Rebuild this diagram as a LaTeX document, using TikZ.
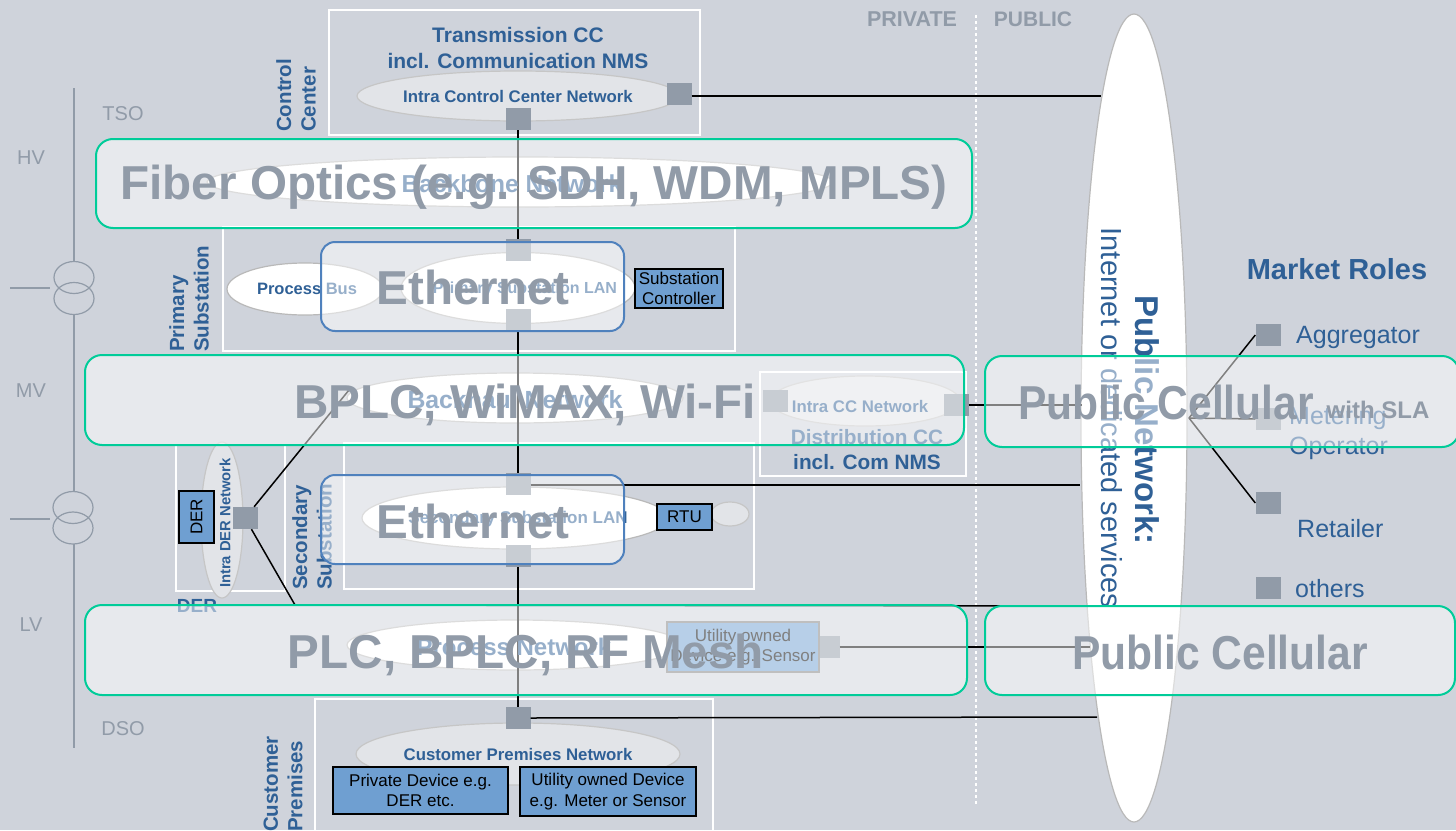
\documentclass[tikz,border=0pt]{standalone}
\usepackage{fontspec}
\usepackage{xcolor}
\setmainfont{Liberation Sans}
\definecolor{bgcol}{HTML}{CFD3DB}
\definecolor{bluetext}{HTML}{2F6096}
\definecolor{grayshape}{HTML}{919BA8}
\definecolor{greenline}{HTML}{00CC99}
\definecolor{blueline}{HTML}{4F81BD}
\definecolor{devicecol}{HTML}{6F9FD1}
\definecolor{hatchcol}{HTML}{E2E4E8}
\newcommand{\fsz}[1]{\fontsize{#1}{\dimexpr#1pt*6/5\relax}\selectfont}
\usetikzlibrary{shapes.geometric}
\tikzset{
    sitebox/.style={draw=white, line width=1.5pt},
    lanwhite/.style={ellipse, draw=gray!55, fill=white, line width=1.2pt, inner sep=0pt},
    lanhatch/.style={ellipse, draw=gray!45, fill=hatchcol, line width=1.2pt, inner sep=0pt},
    portsq/.style={fill=grayshape, minimum width=25pt, minimum height=22pt, inner sep=0pt},
    devbox/.style={draw=black, fill=devicecol, line width=1.2pt, inner sep=0pt, align=center, font=\fsz{17}, text=black},
    bluelabel/.style={text=bluetext, font=\fsz{21}\bfseries, align=center, inner sep=0pt},
    sidelabel/.style={text=bluetext, font=\fsz{20.5}\bfseries, align=left, rotate=90, anchor=west, inner sep=0pt},
    rolelabel/.style={text=bluetext, font=\fsz{25}, anchor=west, align=left, inner sep=0pt},
    graylabel/.style={text=grayshape, font=\fsz{20}, inner sep=0pt},
    link/.style={draw=black, line width=1.5pt},
    techbox/.style={draw=greenline, fill=white, fill opacity=0.5, line width=2pt, rounded corners=17pt, inner sep=0pt},
    lanbox/.style={draw=blueline, fill=white, fill opacity=0.5, line width=2pt, rounded corners=14pt, inner sep=0pt},
    techlabel/.style={text=grayshape, font=\fsz{47.6}\bfseries, inner sep=0pt},
}

\begin{document}
\begin{tikzpicture}[x=1pt, y=-1pt]
    \useasboundingbox[fill=bgcol] (0,0) rectangle (1456,830);

    \draw[grayshape, line width=1.2pt] (74,88) -- (74,262);
    \draw[grayshape, line width=1.2pt] (74,314) -- (74,492);
    \draw[grayshape, line width=1.2pt] (74,544) -- (74,748);
    \draw[grayshape, line width=1.2pt] (74,277.5) ellipse (20 and 16);
    \draw[grayshape, line width=1.2pt] (74,298.5) ellipse (20 and 16);
    \draw[grayshape, line width=1.2pt] (73,507.5) ellipse (20 and 16);
    \draw[grayshape, line width=1.2pt] (73,528) ellipse (20 and 16);
    \draw[grayshape, line width=1.2pt] (10,288) -- (50,288);
    \draw[grayshape, line width=1.2pt] (10,519) -- (50,519);

    \node (hv) [graylabel] at (31,158) {HV};
    \node (mv) [graylabel] at (31,391) {MV};
    \node (lv) [graylabel] at (31,625) {LV};
    \node (tso) [graylabel] at (123,114) {TSO};
    \node (dso) [graylabel] at (123,729) {DSO};
    \node (private) [graylabel, font=\fsz{21.5}\bfseries] at (912,19) {PRIVATE};
    \node (public) [graylabel, font=\fsz{21}\bfseries] at (1033,19) {PUBLIC};

    \draw[white, line width=1.5pt, dashed] (976,15) -- (976,805);

    \draw[sitebox] (329,10) rectangle (700,135);
    \draw[sitebox] (223,227) rectangle (735,351);
    \draw[sitebox] (344,443) rectangle (754,589);
    \draw[sitebox] (176,445) rectangle (285,591);
    \draw[sitebox] (315,699) rectangle (713,835);
    \draw[sitebox] (760,372) rectangle (966,476);

    \node (publicnet) [lanwhite, minimum width=106pt, minimum height=808pt] at (1134,418) {};
    \node (intractrl) [lanhatch, minimum width=322pt, minimum height=50pt] at (518,96) {};
    \node (backbone) [lanwhite, minimum width=626pt, minimum height=50pt] at (520,182) {};
    \node (procbus) [lanwhite, minimum width=156pt, minimum height=52pt] at (305,289) {};
    \node (primlan) [lanwhite, minimum width=234pt, minimum height=71pt] at (518,288) {};
    \node (backhaul) [lanwhite, minimum width=336pt, minimum height=50pt] at (515,398) {};
    \node (intracc) [lanhatch, minimum width=190pt, minimum height=50pt] at (865,401) {};
    \node (seclan) [lanwhite, minimum width=306pt, minimum height=62pt] at (515,518) {};
    \node (rtunet) [lanhatch, minimum width=38pt, minimum height=24pt] at (730,514) {};
    \node (procnet) [lanwhite, minimum width=336pt, minimum height=50pt] at (515,645) {};
    \node (custnet) [lanhatch, minimum width=324pt, minimum height=62pt] at (518,754) {};
    \node (dernet) [lanhatch, minimum width=42pt, minimum height=156pt] at (222,520) {};

    \node (ccsq) [portsq] at (518,119) {};
    \node (ccpub) [portsq] at (679,94) {};
    \node (primtop) [portsq] at (518,250) {};
    \node (primlow) [portsq] at (518,320) {};
    \node (distl) [portsq] at (775,401) {};
    \node (distr) [portsq] at (956,405) {};
    \node (sectop) [portsq] at (518,484) {};
    \node (seclow) [portsq] at (518,556) {};
    \node (dersq) [portsq] at (245,518) {};
    \node (sensq) [portsq] at (827,647) {};
    \node (custsq) [portsq] at (518,718) {};
    \node (aggsq) [portsq] at (1268,335) {};
    \node (metsq) [portsq] at (1268,419) {};
    \node (retsq) [portsq] at (1268,503) {};
    \node (othsq) [portsq] at (1268,588) {};

    \coordinate (pubcc) at (1101,96);
    \coordinate (pubdist) at (1082,405);
    \coordinate (pubsec) at (1080,485);
    \coordinate (derup) at (349,390);
    \coordinate (derknee) at (295,605);
    \coordinate (pubder) at (1089,606);
    \coordinate (pubsen) at (1090,647);
    \coordinate (pubcust) at (1097,717);
    \coordinate (pubfan) at (1189,418);

    \draw[link] (ccsq) -- (primtop);
    \draw[link] (primlow) -- (sectop);
    \draw[link] (seclow) -- (custsq);
    \draw[link] (ccpub.east |- pubcc) -- (pubcc);
    \draw[link] (distr) -- (pubdist);
    \draw[link] (sectop.east |- pubsec) -- (pubsec);
    \draw[link] (sensq) -- (pubsen);
    \draw[link] (custsq.east) -- (pubcust);
    \draw[link] (dersq) -- (derup);
    \draw[link] (dersq) -- (derknee) -- (pubder);
    \draw[link] (pubfan) -- (aggsq.west);
    \draw[link] (pubfan) -- (metsq.west);
    \draw[link] (pubfan) -- (retsq.west);

    \node (subctrl) [devbox, minimum width=88pt, minimum height=39pt] at (679,288.5) {Substation\\Controller};
    \node (rtu) [devbox, minimum width=55pt, minimum height=26pt] at (684.5,517) {RTU};
    \node (der) [devbox, minimum width=35pt, minimum height=52pt] at (196.5,517) {\rotatebox{90}{DER}};
    \node (sensor) [devbox, draw=gray, minimum width=152pt, minimum height=50pt] at (743,647) {Utility owned\\Device e.g. Sensor};
    \node (privdev) [devbox, minimum width=175pt, minimum height=47pt] at (420.5,790.5) {Private Device e.g.\\DER etc.};
    \node (utildev) [devbox, minimum width=176pt, minimum height=49pt] at (608,791.5) {Utility owned Device\\e.g. Meter or Sensor};

    \node (transcc) [bluelabel] at (518,48) {Transmission CC\\incl. Communication NMS};
    \node (intractrllab) [bluelabel, font=\fsz{16.8}\bfseries] at (518,96) {Intra Control Center Network};
    \node (backbonelab) [bluelabel, font=\fsz{24.5}\bfseries] at (512,184) {Backbone Network};
    \node (procbuslab) [bluelabel, font=\fsz{16.5}\bfseries] at (307,289) {Process Bus};
    \node (primlanlab) [bluelabel, font=\fsz{16}\bfseries] at (525,289) {Primary Substation LAN};
    \node (backhaullab) [bluelabel, font=\fsz{24.8}\bfseries] at (515,400) {Backhaul Network};
    \node (intracclab) [bluelabel, font=\fsz{16.8}\bfseries] at (860,406) {Intra CC Network};
    \node (distcc) [bluelabel, font=\fsz{20.8}\bfseries] at (867,450) {Distribution CC\\incl. Com NMS};
    \node (seclanlab) [bluelabel, font=\fsz{17}\bfseries] at (518,519) {Secondary Substation LAN};
    \node (procnetlab) [bluelabel, font=\fsz{24}\bfseries] at (514,647) {Process Network};
    \node (custnetlab) [bluelabel, font=\fsz{16.8}\bfseries] at (518,754) {Customer Premises Network};
    \node (dernetlab) [bluelabel, font=\fsz{14.8}\bfseries, rotate=90] at (225,523) {Intra DER Network};
    \node (derlab) [bluelabel, font=\fsz{19}\bfseries] at (197,606) {DER};
    \node (ctrlcenter) [sidelabel] at (296,132) {Control\\Center};
    \node (primsub) [sidelabel] at (189,352) {Primary\\Substation};
    \node (secsub) [sidelabel] at (312,590) {Secondary\\Substation};
    \node (custprem) [sidelabel] at (283,832) {Customer\\Premises};
    \node (pubnetlab) [bluelabel, font=\fsz{33}\bfseries, rotate=-90] at (1147,420) {Public Network:};
    \node (pubnetsub) [bluelabel, font=\fsz{29}\mdseries, rotate=-90] at (1112,418) {Internet or dedicated services};

    \node (roles) [bluelabel, font=\fsz{29}\bfseries] at (1337,269) {Market Roles};
    \node (agglab) [rolelabel] at (1296,337) {Aggregator};
    \node (metlab) [rolelabel] at (1289,433) {Metering\\Operator};
    \node (retlab) [rolelabel] at (1297,529) {Retailer};
    \node (othlab) [rolelabel] at (1295,589) {others};

    \node (fiberbox) [techbox, minimum width=876pt, minimum height=89pt] at (534,183.5) {};
    \node (bplcbox) [techbox, minimum width=879pt, minimum height=90pt] at (524.5,400) {};
    \node (plcbox) [techbox, minimum width=882pt, minimum height=90pt] at (526,650) {};
    \node (celltop) [techbox, minimum width=474pt, minimum height=91pt] at (1222,401.5) {};
    \node (celllow) [techbox, minimum width=470pt, minimum height=89pt] at (1220,650.5) {};
    \node (ethtop) [lanbox, minimum width=303pt, minimum height=89pt] at (472.5,286.5) {};
    \node (ethlow) [lanbox, minimum width=303pt, minimum height=89pt] at (472.5,519.5) {};

    \node (fibertxt) [techlabel] at (534,187.5) {Fiber Optics (e.g. SDH, WDM, MPLS)};
    \node (bplctxt) [techlabel] at (525,404.5) {BPLC, WiMAX, Wi-Fi};
    \node (plctxt) [techlabel] at (526,654.5) {PLC, BPLC, RF Mesh};
    \node (celltoptxt) [techlabel] at (1166,402) {\scalebox{0.894}[1]{Public Cellular}};
    \node (celllowtxt) [techlabel] at (1220,652) {\scalebox{0.894}[1]{Public Cellular}};
    \node (ethtoptxt) [techlabel] at (473,287) {Ethernet};
    \node (ethlowtxt) [techlabel] at (473,521.5) {Ethernet};
    \node (slatxt) [techlabel, font=\fsz{24}\bfseries] at (1378,410) {with SLA};
\end{tikzpicture}
\end{document}
